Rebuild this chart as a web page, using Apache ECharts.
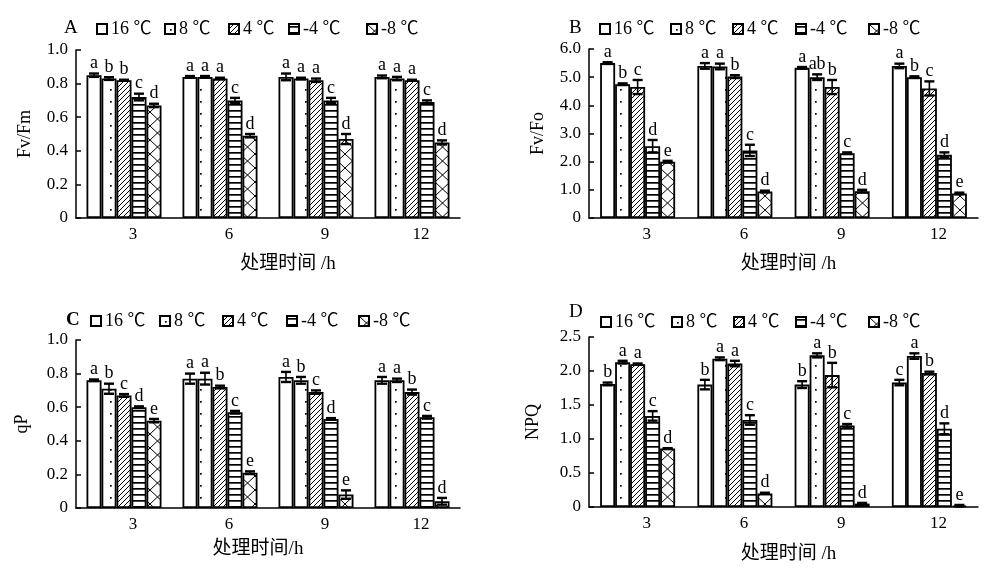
<!DOCTYPE html>
<html><head><meta charset="utf-8">
<script src="https://cdn.jsdelivr.net/npm/echarts@6/dist/echarts.min.js"></script>
<style>html,body{margin:0;padding:0;background:#fff}#c{width:996px;height:568px}</style>
</head><body><div id="c"></div>
<script>
// ---------- data ----------
const categories = ['3', '6', '9', '12'];
const seriesNames = ['16 ℃', '8 ℃', '4 ℃', '-4 ℃', '-8 ℃'];
const panelTitles = ['A', 'B', 'C', 'D'];
const yNames = ['Fv/Fm', 'Fv/Fo', 'qP', 'NPQ'];
const xNames = ['处理时间 /h', '处理时间 /h', '处理时间/h', '处理时间 /h'];
const yMax = [1.0, 6.0, 1.0, 2.5];
const yStep = [0.2, 1.0, 0.2, 0.5];

// Fv/Fm (A)
const fvfmMean = [[0.85, 0.84, 0.84, 0.84], [0.83, 0.84, 0.83, 0.83], [0.82, 0.83, 0.82, 0.82], [0.72, 0.70, 0.70, 0.69], [0.67, 0.49, 0.47, 0.45]];
const fvfmErr = [[0.01, 0.005, 0.02, 0.008], [0.008, 0.005, 0.005, 0.01], [0.003, 0.005, 0.01, 0.003], [0.02, 0.015, 0.015, 0.01], [0.01, 0.01, 0.03, 0.012]];
const fvfmSig = [['a', 'a', 'a', 'a'], ['b', 'a', 'a', 'a'], ['b', 'a', 'a', 'a'], ['c', 'c', 'c', 'c'], ['d', 'd', 'd', 'd']];
// Fv/Fo (B)
const fvfoMean = [[5.5, 5.4, 5.33, 5.4], [4.75, 5.38, 5.0, 5.0], [4.65, 5.02, 4.65, 4.6], [2.55, 2.4, 2.3, 2.25], [2.0, 0.94, 0.95, 0.87]];
const fvfoErr = [[0.03, 0.1, 0.03, 0.08], [0.03, 0.1, 0.1, 0.03], [0.25, 0.05, 0.25, 0.25], [0.22, 0.2, 0.03, 0.08], [0.03, 0.03, 0.05, 0.03]];
const fvfoSig = [['a', 'a', 'a', 'a'], ['b', 'a', 'ab', 'b'], ['c', 'b', 'b', 'c'], ['d', 'c', 'c', 'd'], ['e', 'd', 'd', 'e']];
// qP (C)
const qpMean = [[0.76, 0.77, 0.78, 0.76], [0.71, 0.77, 0.76, 0.76], [0.67, 0.72, 0.69, 0.69], [0.60, 0.57, 0.53, 0.54], [0.52, 0.21, 0.08, 0.04]];
const qpErr = [[0.005, 0.03, 0.03, 0.02], [0.03, 0.035, 0.02, 0.01], [0.008, 0.008, 0.01, 0.015], [0.005, 0.008, 0.005, 0.008], [0.01, 0.008, 0.025, 0.02]];
const qpSig = [['a', 'a', 'a', 'a'], ['b', 'a', 'b', 'a'], ['c', 'b', 'c', 'b'], ['d', 'c', 'd', 'c'], ['e', 'e', 'e', 'd']];
// NPQ (D)
const npqMean = [[1.81, 1.80, 1.80, 1.83], [2.13, 2.18, 2.23, 2.22], [2.10, 2.11, 1.94, 1.97], [1.34, 1.28, 1.20, 1.15], [0.86, 0.20, 0.05, 0.02]];
const npqErr = [[0.02, 0.07, 0.05, 0.04], [0.02, 0.02, 0.03, 0.04], [0.01, 0.04, 0.18, 0.02], [0.07, 0.07, 0.02, 0.08], [0.005, 0.01, 0.01, 0.01]];
const npqSig = [['b', 'b', 'b', 'c'], ['a', 'a', 'a', 'a'], ['a', 'a', 'b', 'b'], ['c', 'c', 'c', 'd'], ['d', 'd', 'd', 'e']];

const panelMeans = [fvfmMean, fvfoMean, qpMean, npqMean];
const panelErrs = [fvfmErr, fvfoErr, qpErr, npqErr];
const panelSigs = [fvfmSig, fvfoSig, qpSig, npqSig];

// ---------- styles / layout ----------
const SERIF = '"Liberation Serif","Times New Roman","Noto Sans CJK SC",serif';
const BAR_W = 15;
const grids = [
  {left: 76, top: 50, width: 384, height: 168},
  {left: 589, top: 49, width: 389, height: 169},
  {left: 76, top: 340, width: 384, height: 168},
  {left: 589, top: 337, width: 389, height: 170}
];
const titlePos = [[64, 19], [569, 19], [66, 311], [569, 303]];
const legendLeft = [
  [96, 164, 228, 288, 366],
  [599, 670, 732, 795, 868],
  [90, 159, 222, 286, 358],
  [600, 671, 733, 795, 868]
];
const legendTop = [20, 20, 312, 313];
const yNameGap = [42, 42, 45, 47];
const xNameGap = [37, 37, 32, 38];
const xNameShift = [40, 10, -20, 10];

function mk(w, h, draw) {
  const c = document.createElement('canvas');
  c.width = w; c.height = h;
  const g = c.getContext('2d');
  g.fillStyle = '#fff'; g.fillRect(0, 0, w, h);
  g.fillStyle = '#000'; g.strokeStyle = '#000';
  draw(g);
  return c;
}
const patterns = [
  '#ffffff',
  {image: mk(15, 12, g => { g.fillRect(5, 5, 1.7, 1.7); }), repeat: 'repeat'},
  {image: mk(5, 5, g => { g.lineWidth = 1; g.beginPath();
    g.moveTo(-1, 6); g.lineTo(6, -1); g.moveTo(-1, 1); g.lineTo(1, -1); g.moveTo(4, 6); g.lineTo(6, 4); g.stroke(); }), repeat: 'repeat'},
  {image: mk(6, 6, g => { g.fillRect(0, 2, 6, 1.7); }), repeat: 'repeat'},
  {image: mk(15, 14, g => { g.lineWidth = 1; g.beginPath();
    g.moveTo(0, 0); g.lineTo(15, 14); g.moveTo(15, 0); g.lineTo(0, 14); g.stroke(); }), repeat: 'repeat'}
];

const legends = [];
for (let p = 0; p < 4; p++) {
  for (let s = 0; s < 5; s++) {
    legends.push({
      data: [seriesNames[s]], left: legendLeft[p][s], top: legendTop[p], icon: 'rect',
      itemWidth: 10, itemHeight: 10, padding: 0,
      textStyle: {fontFamily: SERIF, fontSize: 18, color: '#000', padding: [0, 0, 0, -1]},
      selectedMode: false
    });
  }
}

const option = {
  animation: false,
  backgroundColor: '#fff',
  textStyle: {fontFamily: SERIF, color: '#000'},
  title: panelTitles.map((t, i) => ({
    text: t, left: titlePos[i][0], top: titlePos[i][1], padding: 0,
    textStyle: {fontFamily: SERIF, fontSize: 19, fontWeight: i === 2 ? 'bold' : 'normal', color: '#000'}
  })),
  legend: legends,
  grid: grids,
  xAxis: grids.map((g, i) => ({
    type: 'category', gridIndex: i, data: categories,
    name: xNames[i], nameLocation: 'middle', nameGap: xNameGap[i],
    nameTextStyle: {fontFamily: SERIF, fontSize: 19, color: '#000', padding: [0, 0, 0, xNameShift[i]]},
    axisLine: {lineStyle: {color: '#000', width: 1.5}},
    axisTick: {inside: true, length: 5, lineStyle: {color: '#000', width: 1.5}},
    axisLabel: {fontFamily: SERIF, fontSize: 17, color: '#000', margin: 8, padding: [0, 0, 0, 18]},
    splitLine: {show: false}
  })),
  yAxis: grids.map((g, i) => ({
    type: 'value', gridIndex: i, min: 0, max: yMax[i], interval: yStep[i],
    name: yNames[i], nameLocation: 'middle', nameGap: yNameGap[i], nameRotate: 90,
    nameTextStyle: {fontFamily: SERIF, fontSize: 18, color: '#000'},
    axisLine: {show: true, lineStyle: {color: '#000', width: 1.5}},
    axisTick: {show: true, inside: true, length: 5, lineStyle: {color: '#000', width: 1.5}},
    axisLabel: {fontFamily: SERIF, fontSize: 17, color: '#000', margin: 8,
      formatter: v => v === 0 ? '0' : v.toFixed(1)},
    splitLine: {show: false}
  })),
  series: []
};

for (let p = 0; p < 4; p++) {
  for (let s = 0; s < 5; s++) {
    option.series.push({
      type: 'bar', name: seriesNames[s], xAxisIndex: p, yAxisIndex: p,
      data: panelMeans[p][s], barWidth: BAR_W, barGap: '0%',
      itemStyle: {color: patterns[s], borderColor: '#000', borderWidth: 1.8},
      emphasis: {disabled: true}
    });
  }
  for (let s = 0; s < 5; s++) {
    const sig = panelSigs[p][s];
    option.series.push({
      type: 'custom', xAxisIndex: p, yAxisIndex: p, z: 5, silent: true,
      data: panelMeans[p][s].map((v, ci) => [ci, v, panelErrs[p][s][ci]]),
      renderItem: (params, api) => {
        const ci = api.value(0), v = api.value(1), e = api.value(2);
        const hi = api.coord([ci, v + e]);
        const lo = api.coord([ci, Math.max(0, v - e)]);
        const x = hi[0] + (s - 2) * BAR_W;
        const cw = 5;
        return {type: 'group', children: [
          {type: 'line', shape: {x1: x, y1: lo[1], x2: x, y2: hi[1]}, style: {stroke: '#000', lineWidth: 1.6}},
          {type: 'line', shape: {x1: x - cw, y1: hi[1], x2: x + cw, y2: hi[1]}, style: {stroke: '#000', lineWidth: 2.4}},
          {type: 'line', shape: {x1: x - cw, y1: lo[1], x2: x + cw, y2: lo[1]}, style: {stroke: '#000', lineWidth: 2.4}},
          {type: 'text', style: {text: sig[params.dataIndex], x: x, y: hi[1] - 1,
            textAlign: 'center', textVerticalAlign: 'bottom',
            font: '18px ' + SERIF, fill: '#000'}}
        ]};
      }
    });
  }
}

const chart = echarts.init(document.getElementById('c'), null, {renderer: 'canvas'});
chart.setOption(option);
</script>
</body></html>
